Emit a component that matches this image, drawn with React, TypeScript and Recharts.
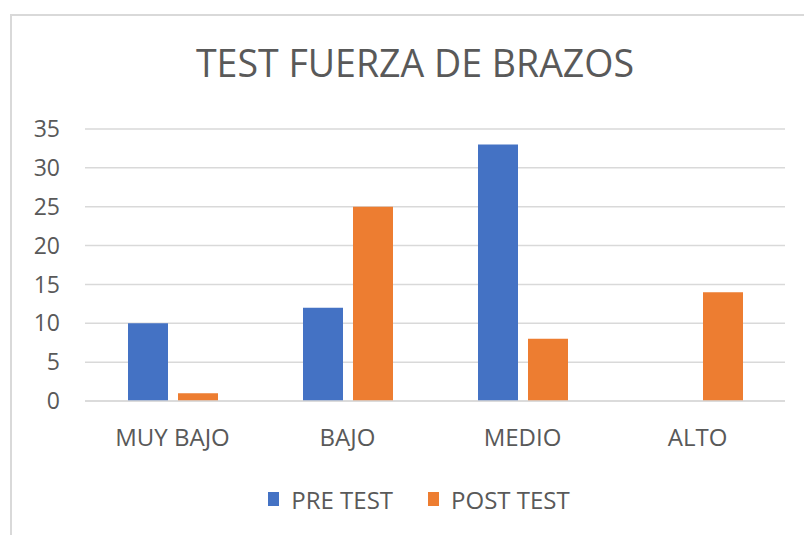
import React from 'react';
import { BarChart, Bar, XAxis, YAxis, CartesianGrid, Legend } from 'recharts';

const categories = ['MUY BAJO', 'BAJO', 'MEDIO', 'ALTO'];
const preTest = [10, 12, 33, 0];
const postTest = [1, 25, 8, 14];
const yTicks = [0, 5, 10, 15, 20, 25, 30, 35];

const seriesNames = { pre: 'PRE TEST', post: 'POST TEST' };
const colors = { pre: '#4472C4', post: '#ED7D31' };

const data = categories.map((c, i) => ({ name: c, pre: preTest[i], post: postTest[i] }));

const FONT = '"Open Sans", sans-serif';
const TEXT = '#595959';

const LegendContent = () => (
  <div style={{ height: 30, paddingLeft: 53, display: 'flex', justifyContent: 'center', alignItems: 'center', fontFamily: FONT, color: TEXT, fontSize: 24 }}>
    {(['pre', 'post'] as const).map((k, i) => (
      <div key={k} style={{ display: 'flex', alignItems: 'center', marginLeft: i === 0 ? 0 : 35 }}>
        <span style={{ display: 'inline-block', width: 11, height: 14, background: colors[k], marginRight: 12 }} />
        <span>{seriesNames[k]}</span>
      </div>
    ))}
  </div>
);

export default function App() {
  return (
    <div style={{ position: 'absolute', left: 0, top: 0, width: 804, height: 535, overflow: 'hidden', background: '#fff' }}>
      <div style={{ position: 'absolute', left: 10, top: 14, width: 900, height: 700, borderLeft: '2px solid #D9D9D9', borderTop: '2px solid #D9D9D9' }} />
      <div style={{ position: 'absolute', left: 0, width: 830, top: 37, textAlign: 'center', fontFamily: FONT, color: TEXT, fontSize: 37.5, lineHeight: '52px' }}>
        TEST FUERZA DE BRAZOS
      </div>
      <div style={{ position: 'absolute', left: 0, top: 0 }}>
        <BarChart width={804} height={535} data={data} margin={{ top: 129, right: 19, left: 0, bottom: 21 }} barSize={40} barGap={10}>
          <CartesianGrid vertical={false} stroke="#D9D9D9" strokeWidth={1.5} />
          <XAxis dataKey="name" height={83} tickLine={false} tickSize={0} tickMargin={28} axisLine={{ stroke: '#D9D9D9', strokeWidth: 1.5 }} tick={{ fill: TEXT, fontSize: 24, fontFamily: FONT }} />
          <YAxis width={85} domain={[0, 35]} ticks={yTicks} tickLine={false} tickSize={0} tickMargin={25} axisLine={false} tick={{ fill: TEXT, fontSize: 23, fontFamily: FONT }} />
          <Legend verticalAlign="bottom" content={<LegendContent />} />
          <Bar dataKey="pre" name={seriesNames.pre} fill={colors.pre} isAnimationActive={false} />
          <Bar dataKey="post" name={seriesNames.post} fill={colors.post} isAnimationActive={false} />
        </BarChart>
      </div>
    </div>
  );
}
